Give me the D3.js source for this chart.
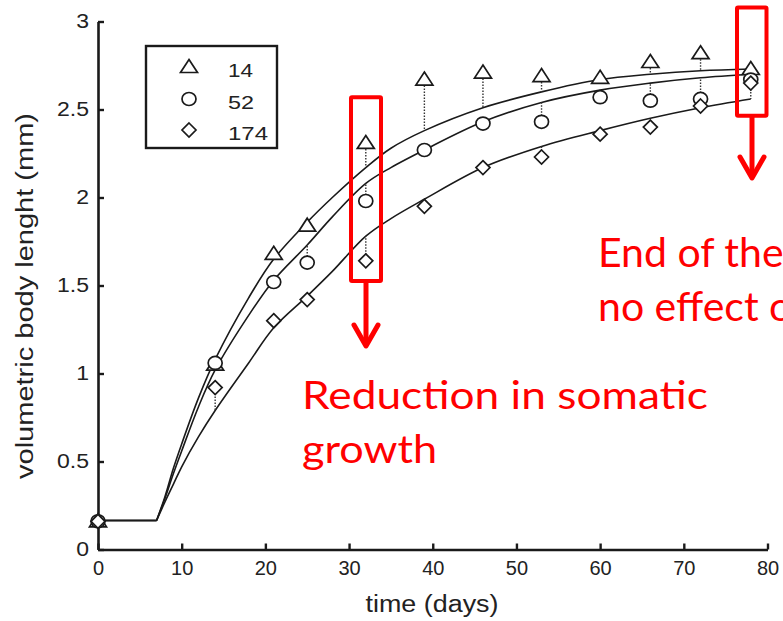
<!DOCTYPE html>
<html>
<head>
<meta charset="utf-8">
<script src="https://cdn.jsdelivr.net/npm/d3@7"></script>
<style>
  body { margin: 0; background: #fff; overflow: hidden; }
  svg { display: block; }
</style>
</head>
<body>
<svg id="canvas"></svg>
<script>
// measured points (days, mm)
const days = [0, 14, 21, 25, 32, 39, 46, 53, 60, 66, 72, 78];
const obs14 = [0.16, 1.05, 1.68, 1.84, 2.31, 2.67, 2.71, 2.69, 2.68, 2.77, 2.82, 2.73];
const obs52 = [0.16, 1.06, 1.52, 1.63, 1.98, 2.27, 2.42, 2.43, 2.57, 2.55, 2.56, 2.67];
const obs174 = [0.16, 0.92, 1.30, 1.42, 1.64, 1.95, 2.17, 2.23, 2.36, 2.40, 2.52, 2.65];

// model curves
const fitDays = [0, 7, 8, 9, 10, 12, 14, 18, 21, 25, 28, 32, 35, 39, 46, 53, 60, 66, 72, 78];
const fit14 = [0.165, 0.165, 0.30, 0.46, 0.60, 0.86, 1.08, 1.43, 1.65, 1.86, 2.00, 2.17, 2.28, 2.38, 2.51, 2.60, 2.67, 2.70, 2.72, 2.73];
const fit52 = [0.165, 0.165, 0.29, 0.43, 0.56, 0.81, 1.02, 1.33, 1.53, 1.73, 1.89, 2.08, 2.17, 2.27, 2.43, 2.54, 2.61, 2.65, 2.68, 2.70];
const fit174 = [0.165, 0.165, 0.27, 0.37, 0.47, 0.64, 0.79, 1.06, 1.26, 1.44, 1.58, 1.78, 1.88, 1.99, 2.17, 2.29, 2.38, 2.45, 2.51, 2.56];

const xTicks = [0, 10, 20, 30, 40, 50, 60, 70, 80];
const yTicks = [0, 0.5, 1, 1.5, 2, 2.5, 3];
const legendLabels = ["14", "52", "174"];

var width = 783,
  height = 621;

const canvas = d3.select("#canvas").attr("width", width).attr("height", height);

const xScale = d3.scaleLinear().domain([0, 80]).range([98, 767.5]);
const yScale = d3.scaleLinear().domain([0, 3]).range([549.5, 21.5]);

const ink = "#1a1a1a";

// axes, ticks pointing inward
const xAxis = d3.axisBottom(xScale).tickValues(xTicks).tickSizeInner(-6).tickSizeOuter(0).tickPadding(11);
const yAxis = d3.axisLeft(yScale).tickValues(yTicks).tickSizeInner(-6).tickSizeOuter(0).tickPadding(9)
  .tickFormat(d3.format(""));

const gx = canvas.append("g").attr("transform", `translate(0, ${yScale(0)})`).call(xAxis);
const gy = canvas.append("g").attr("transform", `translate(${xScale(0)}, 0)`).call(yAxis);

[gx, gy].forEach((g) => {
  g.select(".domain").attr("stroke", ink).attr("stroke-width", 2.6);
  g.selectAll(".tick line").attr("stroke", ink).attr("stroke-width", 2.4);
  g.selectAll(".tick text")
    .attr("fill", "#222")
    .style("font-family", "'Liberation Sans', Arial, sans-serif")
    .style("font-size", "20px");
});
// the y labels read a little wider in the original
gy.selectAll(".tick text").each(function () {
  const w = this.getComputedTextLength();
  d3.select(this).attr("textLength", w * 1.15).attr("lengthAdjust", "spacingAndGlyphs");
});

// axis titles
canvas.append("text")
  .attr("x", 432).attr("y", 612)
  .attr("text-anchor", "middle")
  .attr("textLength", 133).attr("lengthAdjust", "spacingAndGlyphs")
  .attr("fill", "#222")
  .style("font-family", "'Liberation Sans', Arial, sans-serif")
  .style("font-size", "23px")
  .text("time (days)");

canvas.append("text")
  .attr("transform", "translate(33, 296) rotate(-90)")
  .attr("text-anchor", "middle")
  .attr("textLength", 366).attr("lengthAdjust", "spacingAndGlyphs")
  .attr("fill", "#222")
  .style("font-family", "'Liberation Sans', Arial, sans-serif")
  .style("font-size", "23px")
  .text("volumetric body lenght (mm)");

// fitted curves: flat lag phase, then smooth growth
const flat = d3.line()
  .x((d) => xScale(d[0]))
  .y((d) => yScale(d[1]));
const grow = d3.line()
  .x((d) => xScale(d[0]))
  .y((d) => yScale(d[1]))
  .curve(d3.curveCatmullRom.alpha(0.5));

const fits = [fit14, fit52, fit174];
fits.forEach((f) => {
  const pts = fitDays.map((d, i) => [d, f[i]]);
  canvas.append("path")
    .attr("d", flat(pts.filter((p) => p[0] <= 7)))
    .attr("fill", "none").attr("stroke", ink).attr("stroke-width", 1.6);
  canvas.append("path")
    .attr("d", grow(pts.filter((p) => p[0] >= 7)))
    .attr("fill", "none").attr("stroke", ink).attr("stroke-width", 1.6);
});

// residuals: dotted from each point to its curve
const series = [obs14, obs52, obs174];
series.forEach((s, k) => {
  canvas.append("g").selectAll("line")
    .data(days.map((d, i) => [d, s[i], fits[k][fitDays.indexOf(d)]]))
    .join("line")
    .attr("x1", (d) => xScale(d[0]))
    .attr("x2", (d) => xScale(d[0]))
    .attr("y1", (d) => yScale(d[1]))
    .attr("y2", (d) => yScale(d[2]))
    .attr("stroke", "#333")
    .attr("stroke-width", 1.4)
    .attr("stroke-dasharray", "1.5,1.5");
});

// marker shapes
const shapes = [
  "M0,-7.5L8.5,5.5L-8.5,5.5Z",
  "M7,0A7,6.5 0 1,1 -7,0A7,6.5 0 1,1 7,0Z",
  "M0,-7L7,0L0,7L-7,0Z",
];

series.forEach((s, k) => {
  canvas.append("g").selectAll("path")
    .data(days.map((d, i) => [d, s[i]]))
    .join("path")
    .attr("transform", (d) => `translate(${xScale(d[0])}, ${yScale(d[1])})`)
    .attr("d", shapes[k])
    .attr("fill", "#fff")
    .attr("stroke", ink)
    .attr("stroke-width", 1.7);
});

// legend
const legend = canvas.append("g");
legend.append("rect")
  .attr("x", 146).attr("y", 46).attr("width", 131).attr("height", 102)
  .attr("fill", "#fff").attr("stroke", ink).attr("stroke-width", 2.4);

const legendY = [67, 99, 130];
const legendLen = [25, 26, 40];
legendLabels.forEach((lab, k) => {
  legend.append("path")
    .attr("transform", `translate(189, ${legendY[k]})`)
    .attr("d", shapes[k])
    .attr("fill", "#fff").attr("stroke", ink).attr("stroke-width", 1.7);
  legend.append("text")
    .attr("x", 228).attr("y", legendY[k] + 10)
    .attr("textLength", legendLen[k]).attr("lengthAdjust", "spacingAndGlyphs")
    .attr("fill", "#222")
    .style("font-family", "'Liberation Sans', Arial, sans-serif")
    .style("font-size", "18px")
    .text(lab);
});

// red annotations
const red = "#ff0000";
const notes = canvas.append("g");

function box(x0, x1, v0, v1) {
  notes.append("rect")
    .attr("x", x0).attr("y", yScale(v1))
    .attr("width", x1 - x0).attr("height", yScale(v0) - yScale(v1))
    .attr("fill", "none").attr("stroke", red).attr("stroke-width", 4)
    .attr("rx", 1);
}
function arrow(x, yTop, yTip) {
  notes.append("line")
    .attr("x1", x).attr("x2", x).attr("y1", yTop).attr("y2", yTip - 2)
    .attr("stroke", red).attr("stroke-width", 5);
  notes.append("path")
    .attr("d", `M${x - 12},${yTip - 23}L${x},${yTip - 2}L${x + 12},${yTip - 23}`)
    .attr("fill", "none").attr("stroke", red).attr("stroke-width", 5)
    .attr("stroke-linecap", "round").attr("stroke-linejoin", "round");
}

box(351, 381, 1.525, 2.57);
arrow(366, 283, 348);
box(737, 766.5, 2.465, 3.08);
arrow(752, 117, 180);

const redFont = "Lato, 'Open Sans', sans-serif";
notes.append("text").attr("x", 302).attr("y", 409)
  .attr("textLength", 406).attr("lengthAdjust", "spacingAndGlyphs")
  .attr("fill", red).style("font-family", redFont).style("font-size", "38px")
  .text("Reduction in somatic");
notes.append("text").attr("x", 302).attr("y", 463)
  .attr("textLength", 135).attr("lengthAdjust", "spacingAndGlyphs")
  .attr("fill", red).style("font-family", redFont).style("font-size", "38px")
  .text("growth");
notes.append("text").attr("x", 598).attr("y", 267)
  .attr("fill", red).style("font-family", redFont).style("font-size", "41px")
  .text("End of the");
notes.append("text").attr("x", 598).attr("y", 321)
  .attr("fill", red).style("font-family", redFont).style("font-size", "41px")
  .text("no effect on");
</script>
</body>
</html>
